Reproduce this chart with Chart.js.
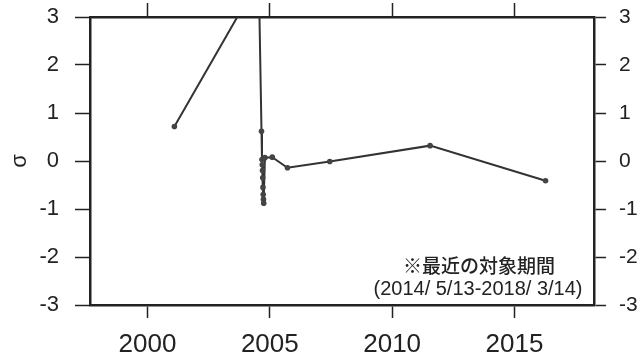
<!DOCTYPE html>
<html lang="ja">
<head>
    <meta charset="UTF-8">
    <title>σ trend</title>
    <script src="https://cdnjs.cloudflare.com/ajax/libs/Chart.js/4.4.1/chart.umd.min.js"></script>
    <style>
        body { margin: 0; background: #fff; }
        canvas { display: block; }
    </style>
</head>
<body>
    <canvas id="sigmaChart" width="644" height="361"></canvas>

    <script>
        // data (decimal years, sigma)
        const years = [2001.1, 2004.55, 2004.66, 2004.68, 2004.69, 2004.70, 2004.71, 2004.72,
                       2004.73, 2004.74, 2004.75, 2004.80, 2005.1, 2005.72, 2007.45, 2011.55, 2016.27];
        const sigma = [0.72, 3.78, 0.62, 0.03, -0.08, -0.2, -0.35, -0.55,
                       -0.7, -0.8, -0.88, 0.07, 0.08, -0.14, -0.01, 0.32, -0.41];
        const yearTicks = [2000, 2005, 2010, 2015];
        const sigmaTicks = [-3, -2, -1, 0, 1, 2, 3];
        const noteLines = ['※最近の対象期間', '(2014/ 5/13-2018/ 3/14)'];

        const ink = '#222';
        const setTicks = vals => scale => { scale.ticks = vals.map(v => ({ value: v })); };

        // fixed axis sizes so the plot box lands where the scan has it,
        // and no extra label padding pushing the box around
        const fitWidth = w => scale => {
            scale.width = w;
            scale.paddingTop = scale.paddingBottom = 0;
        };
        const fitHeight = h => scale => {
            scale.height = h;
            scale.paddingLeft = scale.paddingRight = 0;
        };

        const notePlugin = {
            id: 'note',
            afterDraw(chart) {
                const ctx = chart.ctx;
                ctx.save();
                ctx.fillStyle = ink;
                ctx.textAlign = 'center';
                ctx.textBaseline = 'middle';
                ctx.font = '500 19px "Noto Sans CJK JP"';
                ctx.fillText(noteLines[0], 479, 266);
                ctx.font = '20px "Liberation Sans"';
                ctx.fillText(noteLines[1], 478, 289);
                ctx.restore();
            }
        };

        const ctx = document.getElementById('sigmaChart').getContext('2d');
        new Chart(ctx, {
            type: 'line',
            data: {
                datasets: [{
                    data: years.map((yr, i) => ({ x: yr, y: sigma[i] })),
                    borderColor: '#333',
                    borderWidth: 2,
                    pointRadius: 2.8,
                    pointBackgroundColor: '#444',
                    pointBorderWidth: 0,
                    tension: 0
                }]
            },
            options: {
                responsive: false,
                devicePixelRatio: 1,
                animation: false,
                layout: { padding: 0 },
                plugins: {
                    legend: { display: false },
                    tooltip: { enabled: false }
                },
                scales: {
                    x: {
                        type: 'linear',
                        position: 'bottom',
                        min: 1997.65,
                        max: 2018.25,
                        afterBuildTicks: setTicks(yearTicks),
                        afterFit: fitHeight(56),
                        border: { color: ink, width: 2.5 },
                        grid: { drawOnChartArea: false, color: ink, tickLength: 13, tickWidth: 1.5 },
                        ticks: {
                            color: ink,
                            padding: 11,
                            font: { family: 'Liberation Sans', size: 26 },
                            callback: v => String(v)
                        }
                    },
                    x2: {
                        type: 'linear',
                        position: 'top',
                        min: 1997.65,
                        max: 2018.25,
                        afterBuildTicks: setTicks(yearTicks),
                        afterFit: fitHeight(17),
                        border: { color: ink, width: 2.5 },
                        grid: { drawOnChartArea: false, color: ink, tickLength: 14, tickWidth: 1.5 },
                        ticks: { display: false }
                    },
                    y: {
                        type: 'linear',
                        position: 'left',
                        min: -3,
                        max: 3,
                        afterBuildTicks: setTicks(sigmaTicks),
                        afterFit: fitWidth(90),
                        border: { color: ink, width: 2.5 },
                        grid: { drawOnChartArea: false, color: ink, tickLength: 15, tickWidth: 1.5 },
                        title: {
                            display: true,
                            text: 'σ',
                            color: ink,
                            padding: { top: 7, bottom: 0 },
                            font: { family: 'Liberation Sans', size: 22 }
                        },
                        ticks: {
                            color: ink,
                            padding: 16,
                            font: { family: 'Liberation Sans', size: 22 }
                        }
                    },
                    y2: {
                        type: 'linear',
                        position: 'right',
                        min: -3,
                        max: 3,
                        afterBuildTicks: setTicks(sigmaTicks),
                        afterFit: fitWidth(50),
                        border: { color: ink, width: 2.5 },
                        grid: { drawOnChartArea: false, color: ink, tickLength: 12, tickWidth: 1.5 },
                        ticks: {
                            color: ink,
                            padding: 13,
                            font: { family: 'Liberation Sans', size: 21 }
                        }
                    }
                }
            },
            plugins: [notePlugin]
        });
    </script>
</body>
</html>
